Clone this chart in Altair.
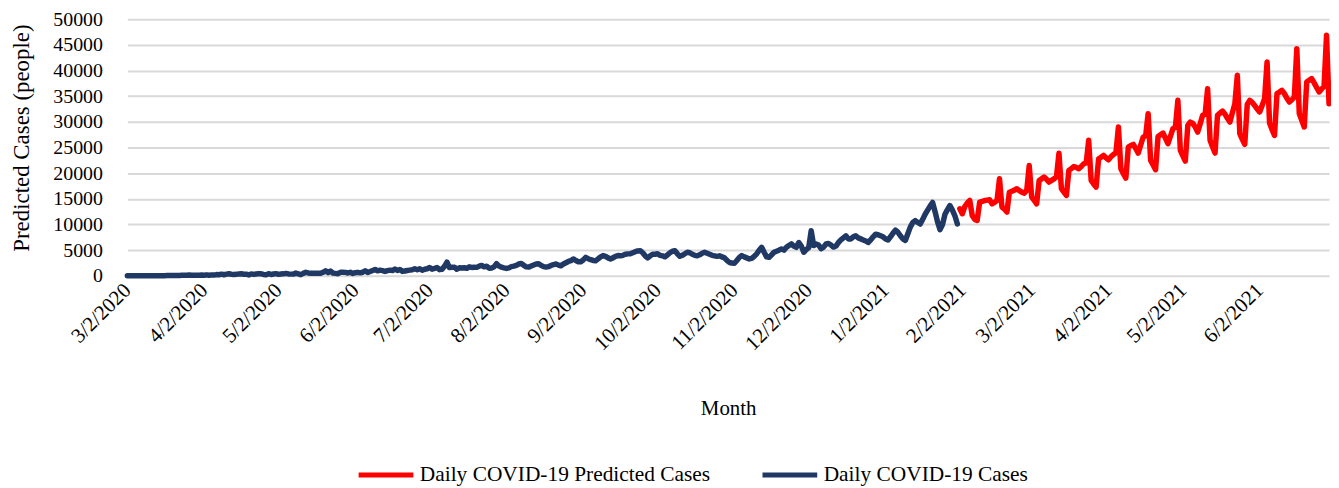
import altair as alt
import pandas as pd

# ---------------- data ----------------
actual_start = "2020-03-02"
act_2020_03 = [2, 0, 0, 0, 2, 0, 2, 13, 8, 7, 0, 35, 27, 21, 17, 38, 55, 82, 60, 81,
               64, 65, 107, 105, 103, 153, 109, 130, 129, 114]
act_2020_04 = [149, 113, 196, 106, 181, 150, 247, 218, 337, 219, 330, 399, 316, 282, 297,
               380, 407, 325, 327, 185, 375, 283, 357, 436, 396, 275, 214, 415, 260, 347]
act_2020_05 = [433, 292, 349, 395, 484, 367, 338, 336, 533, 387, 233, 484, 689, 568, 490,
               529, 489, 496, 486, 693, 973, 634, 949, 526, 479, 415, 686, 687, 678, 557, 700]
act_2020_06 = [467, 609, 684, 585, 703, 993, 672, 847, 1043, 1241, 979, 1111, 1014, 857, 1017,
               1106, 1031, 1331, 1041, 1226, 862, 954, 1051, 1113, 1178, 1385, 1198, 1385, 1082, 1293]
act_2020_07 = [1385, 1624, 1301, 1447, 1607, 1209, 1268, 1853, 2657, 1611, 1671, 1681, 1282, 1591,
               1522, 1574, 1462, 1752, 1639, 1693, 1655, 1882, 2040, 1761, 1868, 1492, 1525, 1748,
               2381, 1904, 1696]
act_2020_08 = [1560, 1450, 1560, 1800, 1900, 2050, 2300, 2400, 2050, 1750, 1700, 1900, 2100, 2300,
               2350, 2050, 1800, 1700, 1800, 2000, 2200, 2300, 2100, 1950, 2300, 2550, 2800, 2950,
               3300, 3000, 2750]
act_2020_09 = [2750, 3100, 3600, 3350, 3150, 3000, 2950, 3300, 3700, 3950, 3800, 3500, 3300, 3500,
               3800, 3950, 3900, 4000, 4200, 4280, 4300, 4500, 4700, 4850, 4900, 4500, 3900, 3500,
               3900, 4200]
act_2020_10 = [4200, 4300, 4000, 3900, 3700, 4100, 4500, 4800, 4900, 4300, 3800, 4000, 4300, 4600,
               4500, 4200, 4000, 3900, 4100, 4400, 4600, 4400, 4200, 4000, 3900, 3800, 3900, 3700,
               3500, 3000, 2600]
act_2020_11 = [2500, 2450, 3000, 3600, 3950, 3700, 3500, 3300, 3400, 3800, 4300, 5000, 5560, 4600,
               3700, 3600, 4100, 4600, 4800, 5000, 5250, 5000, 5560, 5900, 6220, 5800, 5560, 6500,
               5800, 4600]
act_2020_12 = [5100, 5500, 8800, 5900, 6200, 6000, 5300, 5600, 6200, 6300, 6000, 5600, 5800, 6500,
               7000, 7400, 7800, 7200, 7200, 7600, 7800, 7400, 7200, 7000, 6800, 6500, 7000, 7600,
               8100, 8000, 7800]
act_2021_01 = [7600, 7200, 7000, 7600, 8300, 8900, 8500, 7800, 7200, 6900, 8200, 9500, 10400, 10750,
               10400, 10100, 11000, 12000, 12800, 13600, 14300, 12500, 10500, 9000, 10000, 12000,
               12900, 13700, 12800, 11700, 10100]
actual_cases = (act_2020_03 + act_2020_04 + act_2020_05 + act_2020_06 + act_2020_07 +
                act_2020_08 + act_2020_09 + act_2020_10 + act_2020_11 + act_2020_12 + act_2021_01)

pred_start = "2021-02-01"
pred_cases = [
    13070, 12100, 13500, 14200, 14690, 11770, 11000, 10790, 14370, 14500, 14690, 14750, 14820, 14040, 14300, 14690,
    18900, 13390, 13000, 12420, 16300, 16500, 16700, 16970, 16600, 16300, 16120, 16640,
    21500, 15340, 14700, 14040, 18590, 18900, 19240, 18800, 18270, 18600, 18900, 19300,
    23900, 16970, 16300, 15660, 20540, 20900, 21300, 21100, 20860, 21300, 21840, 22000,
    26400, 18590, 17900, 17290, 22800, 23100, 23470, 23000, 22620, 23200, 23660, 24000,
    29000, 20860, 19900, 19040, 25090, 25400, 25610, 24800, 23920, 25500, 27040, 27300,
    31600, 22490, 21600, 20670, 27170, 27500, 27820, 26800, 25740, 27200, 28670, 29000,
    34200, 24440, 23400, 22360, 29300, 29970, 29700, 29000, 28020, 29600, 31270, 31500,
    36470, 26390, 25100, 23920, 31270, 31700, 32110, 31500, 30700, 29970, 31800, 33540,
    39070, 27690, 26600, 25610, 33410, 34200, 33800, 33200, 32500, 31920, 33200, 34520,
    41670, 29770, 28500, 27370, 35500, 35800, 36140, 35500, 34600, 33870, 34300, 34840,
    44270, 31600, 30300, 29000, 37770, 38100, 38420, 37600, 36700, 35820, 36400, 36920,
    46870, 33540,
]

series_pred = "Daily COVID-19 Predicted Cases"
series_actual = "Daily COVID-19 Cases"
series_names = [series_pred, series_actual]
series_colors = ["#FF0000", "#203864"]

tick_months = [(2020, 3), (2020, 4), (2020, 5), (2020, 6), (2020, 7), (2020, 8), (2020, 9),
               (2020, 10), (2020, 11), (2020, 12), (2021, 1), (2021, 2), (2021, 3), (2021, 4),
               (2021, 5), (2021, 6)]
y_ticks = [0, 5000, 10000, 15000, 20000, 25000, 30000, 35000, 40000, 45000, 50000]

# ---------------- table ----------------
df_a = pd.DataFrame({"date": pd.date_range(actual_start, periods=len(actual_cases), freq="D"),
                     "cases": actual_cases, "series": series_actual})
df_p = pd.DataFrame({"date": pd.date_range(pred_start, periods=len(pred_cases), freq="D"),
                     "cases": pred_cases, "series": series_pred})
df = pd.concat([df_a, df_p], ignore_index=True)

FONT = "Liberation Serif"

x_values = [alt.DateTime(year=y, month=m, date=2) for (y, m) in tick_months]

chart = alt.Chart(df).mark_line(strokeWidth=5.5, strokeJoin="round", strokeCap="round").encode(
    x=alt.X("date:T", title="Month",
            scale=alt.Scale(domain=[alt.DateTime(year=2020, month=3, date=2),
                                    alt.DateTime(year=2021, month=6, date=30)], nice=False),
            axis=alt.Axis(values=x_values, format="%-m/%-d/%Y", labelAngle=-45,
                          labelAlign="right", labelBaseline="middle", grid=False,
                          domain=False, ticks=False, tickSize=0, labelPadding=11,
                          labelFontSize=21, titleFontSize=21, titlePadding=44,
                          labelOverlap=False)),
    y=alt.Y("cases:Q", title="Predicted Cases (people)",
            scale=alt.Scale(domain=[0, 50000], nice=False),
            axis=alt.Axis(values=y_ticks, format="d", gridColor="#d9d9d9", gridWidth=2,
                          domain=False, ticks=False, tickSize=0, labelPadding=25,
                          labelFontSize=20, titleFontSize=23, titlePadding=19,
                          titleY=119, labelOverlap=False)),
    color=alt.Color("series:N", sort=series_names,
                    scale=alt.Scale(domain=series_names, range=series_colors),
                    legend=alt.Legend(orient="none", legendX=230, legendY=428,
                                      direction="horizontal", title=None,
                                      symbolType="stroke", symbolSize=3025,
                                      symbolStrokeWidth=5, labelFontSize=21.5,
                                      labelLimit=0, columnPadding=42, labelOffset=4,
                                      padding=0)),
).properties(
    width=1208, height=258, autosize="none",
    padding={"left": 120, "top": 10, "right": 2, "bottom": 210},
).configure_axis(
    labelFont=FONT, titleFont=FONT, labelColor="black", titleColor="black",
    titleFontWeight="normal",
).configure_legend(
    labelFont=FONT, labelColor="black",
).configure_view(stroke=None)

chart.save("out.html", embed_options={"renderer": "svg", "actions": False})
